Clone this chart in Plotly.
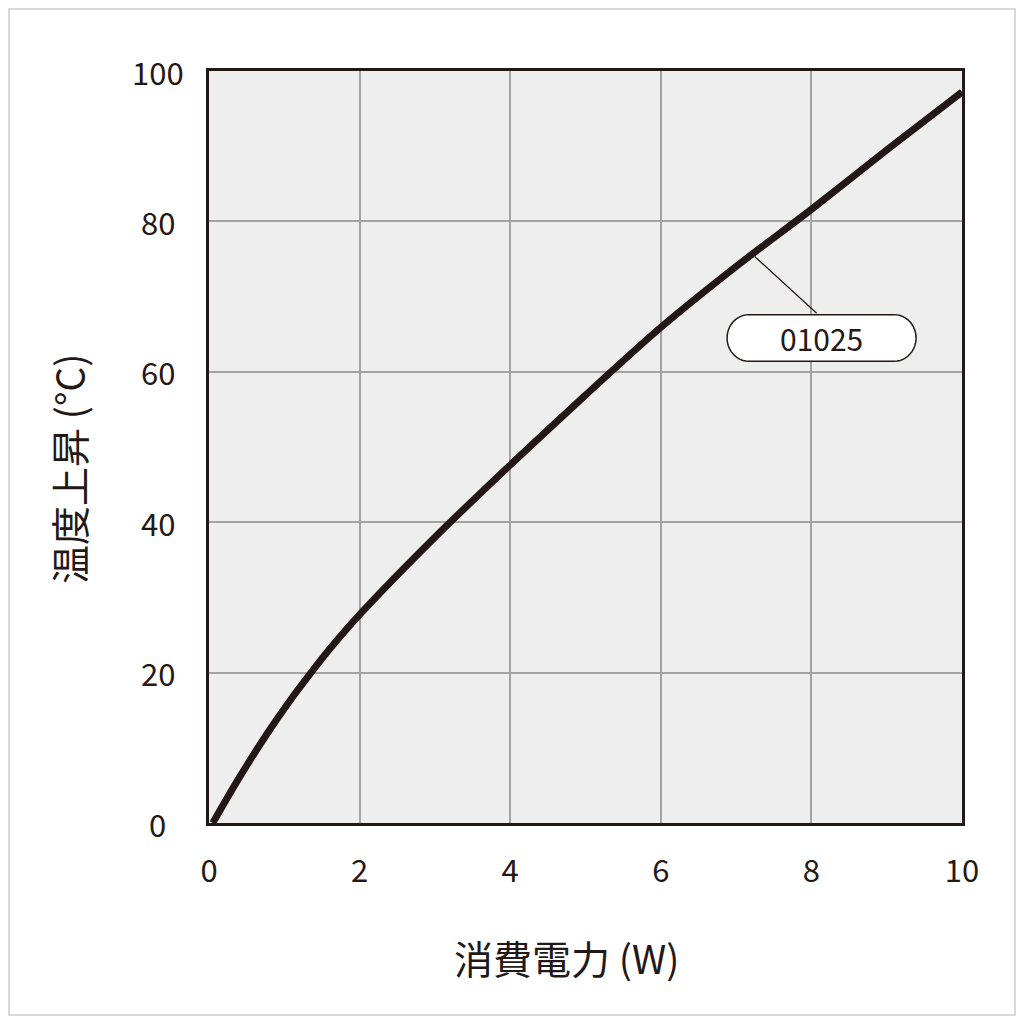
import numpy as np
import plotly.graph_objects as go

# power (W) vs temperature rise (°C)
power = [0.05, 0.37, 0.78, 1.07, 1.34, 1.6, 2.0, 3.0, 4.0, 5.0, 6.0, 7.0, 8.0, 9.0, 10.0]
temp_rise = [0.0, 5.5, 12.0, 16.2, 19.8, 23.1, 27.7, 38.0, 47.6, 56.9, 65.9, 74.0, 81.6, 89.5, 97.2]

x_ticks = [0, 2, 4, 6, 8, 10]
y_ticks = [0, 20, 40, 60, 80, 100]
label_text = "01025"
x_title = "消費電力 (W)"
y_title = "温度上昇 (°C)"

INK = "#231815"
FONT = "Noto Sans CJK JP"

fig = go.Figure()
fig.add_trace(go.Scatter(x=power, y=temp_rise, mode="lines",
                         line=dict(color=INK, width=7, shape="spline", smoothing=0.8),
                         hoverinfo="skip", showlegend=False))

# pill shaped label box (data coords)
bx0, bx1, by0, by1 = 6.88, 9.39, 61.4, 67.6
rx = 0.29
ry = (by1 - by0) / 2
cy = (by0 + by1) / 2
pts = []
for a in np.linspace(np.pi / 2, 3 * np.pi / 2, 24):
    pts.append((bx0 + rx + rx * np.cos(a), cy + ry * np.sin(a)))
for a in np.linspace(-np.pi / 2, np.pi / 2, 24):
    pts.append((bx1 - rx + rx * np.cos(a), cy + ry * np.sin(a)))
path = "M " + " L ".join(f"{px:.4f},{py:.4f}" for px, py in pts) + " Z"
fig.add_shape(type="path", path=path, xref="x", yref="y",
              line=dict(color=INK, width=1.5), fillcolor="white", layer="above")

fig.add_annotation(x=7.25, y=75.3, ax=8.09, ay=67.6, axref="x", ayref="y",
                   xref="x", yref="y", text="", showarrow=True,
                   arrowhead=0, arrowwidth=1.3, arrowcolor=INK)
fig.add_annotation(x=(bx0 + bx1) / 2, y=cy, xref="x", yref="y", text=label_text,
                   showarrow=False, font=dict(family=FONT, size=30, color=INK))

# y tick labels are centred in the reference, so draw them as annotations
for v in y_ticks:
    fig.add_annotation(x=-0.068, y=v, xref="paper", yref="y", text=str(v),
                       showarrow=False, xanchor="center", yanchor="middle",
                       font=dict(family=FONT, size=31, color=INK))

# axis titles (slightly off-centre in the reference)
fig.add_annotation(x=0.475, y=-0.178, xref="paper", yref="paper", text=x_title,
                   showarrow=False, xanchor="center", yanchor="middle",
                   font=dict(family=FONT, size=39, color=INK))
fig.add_annotation(x=-0.187, y=0.471, xref="paper", yref="paper", text=y_title,
                   showarrow=False, xanchor="center", yanchor="middle", textangle=-90,
                   font=dict(family=FONT, size=39, color=INK))

# page body adds 8px, so the figure is 1008 wide and margins are shifted by 8
W, L, R, T, B = 1008, 201, 54, 63, 193
pw, ph = W - L - R, W - T - B
# light frame around the whole picture
fig.add_shape(type="rect", xref="paper", yref="paper",
              x0=-(L - 1) / pw, x1=1 + (R - 1) / pw, y0=-(B - 1) / ph, y1=1 + (T - 1) / ph,
              line=dict(color="#cccccc", width=1.5), layer="below")

fig.update_layout(
    width=W, height=W,
    margin=dict(l=L, r=R, t=T, b=B),
    paper_bgcolor="white", plot_bgcolor="#eeeeef",
    font=dict(family=FONT, color=INK),
    xaxis=dict(range=[0, 10], tickvals=x_ticks, showgrid=True, gridcolor="#a3a3a3", gridwidth=2,
               zeroline=False, showline=True, mirror=True, linecolor=INK, linewidth=3,
               ticks="", ticklabelstandoff=19, tickfont=dict(size=31, family=FONT, color=INK)),
    yaxis=dict(range=[0, 100], tickvals=y_ticks, showticklabels=False, showgrid=True,
               gridcolor="#a3a3a3", gridwidth=2,
               zeroline=False, showline=True, mirror=True, linecolor=INK, linewidth=3, ticks=""),
)

fig.write_html("out.html")
